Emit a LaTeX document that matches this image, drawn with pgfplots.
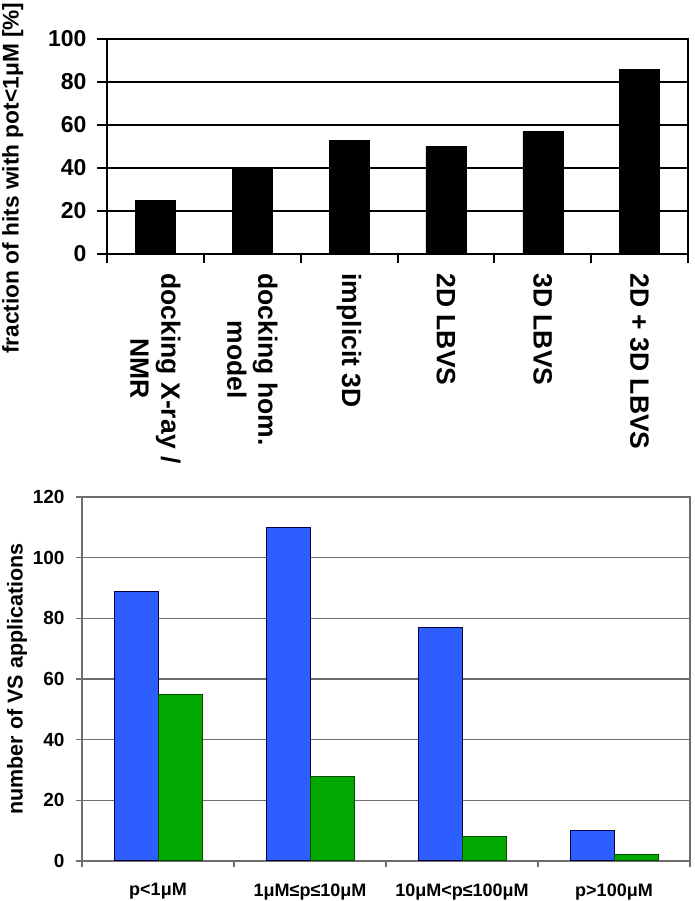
\documentclass[border=0pt]{standalone}
\usepackage{fontspec}
\setmainfont{Liberation Sans}
\usepackage{pgfplots}
\pgfplotsset{compat=1.18}
\definecolor{barblue}{RGB}{45,94,255}
\definecolor{bargreen}{RGB}{0,168,0}
\definecolor{gridgray}{RGB}{110,110,110}
\begin{document}
\begin{tikzpicture}
\path[use as bounding box] (0,0) rectangle (694pt,901pt);
% ---------- top chart ----------
\begin{axis}[
  at={(107pt,647pt)}, anchor=south west,
  scale only axis, width=581pt, height=215pt,
  /pgf/number format/assume math mode=true,
  xmin=-0.5, xmax=5.5, ymin=0, ymax=100,
  ytick={0,20,...,100},
  ymajorgrids, grid style={black, line width=2pt},
  axis line style={black, line width=2pt},
  tick align=outside, xtick pos=bottom, ytick pos=left,
  xtick={0,...,5},
  minor xtick={-0.5,0.5,...,5.5},
  major x tick style={draw=none},
  minor x tick style={black, line width=2pt},
  minor tick length=9pt,
  major y tick style={black, line width=2pt},
  major tick length=10pt,
  xticklabels={{docking X-ray /\\NMR},{docking hom.\\model},{implicit 3D},{2D LBVS},{3D LBVS},{2D + 3D LBVS}},
  xticklabel shift=6pt,
  xticklabel style={rotate=-90, anchor=west, align=center,
    font=\bfseries\fontsize{26.5}{31}\selectfont},
  yticklabel style={font=\bfseries\fontsize{23}{26}\selectfont, xshift=-7pt},
  ylabel={fraction of hits with pot<1μM [\%]},
  ylabel style={at={(axis description cs:-0.162,0.353)}, anchor=center, rotate=0,
    font=\bfseries\fontsize{22.7}{26}\selectfont},
]
\addplot[ybar, bar width=40pt, fill=black, draw=black]
  coordinates {(0,25) (1,40) (2,53) (3,50) (4,57) (5,86)};
\end{axis}
% ---------- bottom chart ----------
\begin{axis}[
  at={(82pt,40pt)}, anchor=south west,
  scale only axis, width=608pt, height=364pt,
  /pgf/number format/assume math mode=true,
  xmin=-0.5, xmax=3.5, ymin=0, ymax=120,
  ytick={0,20,...,120},
  ymajorgrids, grid style={gridgray, line width=1.5pt},
  axis line style={gridgray, line width=1.5pt},
  tick align=outside, xtick pos=bottom, ytick pos=left,
  xtick={0,...,3},
  minor xtick={-0.5,0.5,...,3.5},
  major x tick style={draw=none},
  minor x tick style={gridgray, line width=1.5pt},
  minor tick length=6pt,
  major y tick style={gridgray, line width=1.5pt},
  major tick length=6pt,
  xticklabels={p<1μM, 1μM≤p≤10μM, 10μM<p≤100μM, p>100μM},
  xticklabel style={font=\bfseries\fontsize{18}{21}\selectfont, yshift=-13pt},
  yticklabel style={font=\bfseries\fontsize{19}{22}\selectfont, xshift=-8pt},
  ylabel={number of VS applications},
  ylabel style={at={(axis description cs:-0.107,0.5)}, anchor=center, rotate=0,
    font=\bfseries\fontsize{21.5}{25}\selectfont},
  ybar=0pt, bar width=44pt,
]
\addplot[fill=barblue, draw=black!75!blue, line width=1pt]
  coordinates {(0,89) (1,110) (2,77) (3,10)};
\addplot[fill=bargreen, draw=black!70!green, line width=1pt]
  coordinates {(0,55) (1,28) (2,8) (3,2)};
\end{axis}
\end{tikzpicture}
\end{document}
